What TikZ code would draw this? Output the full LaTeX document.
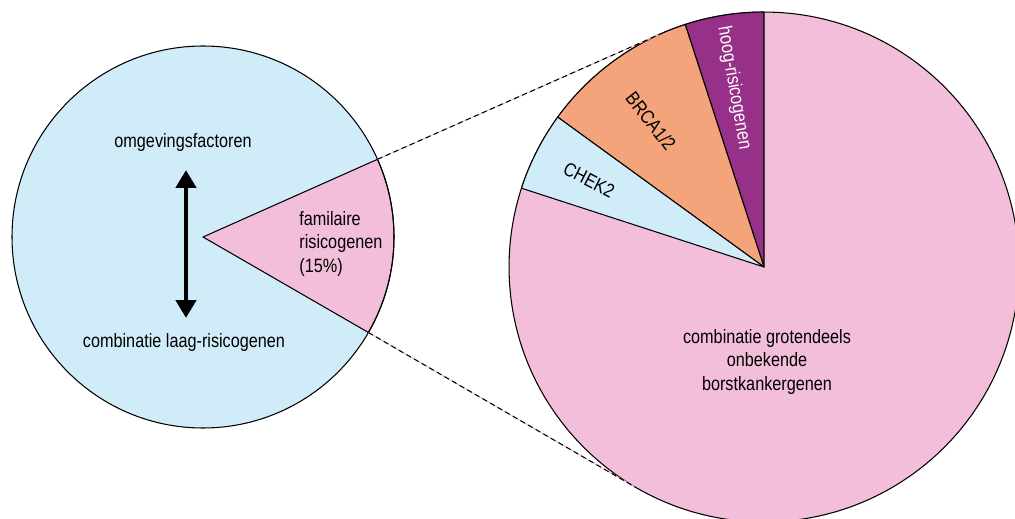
\documentclass[tikz,border=0pt]{standalone}
\usepackage{fontspec}
\setmainfont{Liberation Sans}[FakeStretch=0.84]
\usetikzlibrary{arrows.meta}
\definecolor{bcBlue}{RGB}{208,236,249}
\definecolor{bcPink}{RGB}{243,190,217}
\definecolor{bcOrange}{RGB}{244,164,122}
\definecolor{bcPurple}{RGB}{151,48,136}

\begin{document}
\begin{tikzpicture}[x=0.02cm, y=0.02cm, line width=0.6pt,
    font=\fontsize{11}{13.6}\selectfont,
    slice/.style={draw=black, line join=round},
    zoomline/.style={draw=black, dash pattern=on 3pt off 2pt}]
    \useasboundingbox (0,0) rectangle (1015,518);
    \clip (0,0) rectangle (1015,518);
    % left circle
    \coordinate (L) at (203,281);
    \fill[bcBlue] (L) circle (191);
    \filldraw[slice, fill=bcPink] (L) -- ++(-30:191) arc (-30:24:191) -- cycle;
    \draw (L) circle (191);
    \coordinate (famHi) at ([shift={(24:191)}]L);
    \coordinate (famLo) at ([shift={(-30:191)}]L);
    \node (omg) at (183,375) {omgevingsfactoren};
    \node (comb) at (184,175) {combinatie laag-risicogenen};
    \coordinate (arrTop) at (186,348);
    \coordinate (arrBot) at (186,200);
    \draw[line width=2.8pt, {Triangle[width=0.4cm,length=0.36cm]}-{Triangle[width=0.4cm,length=0.36cm]}]
      (arrTop) -- (arrBot);
    \node[align=left, anchor=west] (fam) at (293,274) {familaire\\ risicogenen\\ (15\%)};
    % right pie
    \coordinate (R) at (764,251);
    \node[circle, draw, fill=bcPink, minimum size=10.2cm, inner sep=0pt, outer sep=0pt] (big) at (R) {};
    \filldraw[slice, fill=bcPurple] (R) -- ++(90:255) arc (90:108:255) -- cycle;
    \filldraw[slice, fill=bcOrange] (R) -- ++(108:255) arc (108:144:255) -- cycle;
    \filldraw[slice, fill=bcBlue] (R) -- ++(144:255) arc (144:162:255) -- cycle;
    \node[rotate=-80, text=white] (hoog) at (734,430) {hoog-risicogenen};
    \node[rotate=-52] (brca) at (651,397) {BRCA1/2};
    \node[rotate=-27] (chek) at (589,338) {CHEK2};
    \node[align=center] (rest) at (767,156)
      {combinatie grotendeels\\ onbekende\\ borstkankergenen};
    % zoom lines
    \coordinate (tanHi) at ([shift={(113.9:255)}]R);
    \coordinate (tanLo) at ([shift={(239.9:255)}]R);
    \draw[bcPink] (famHi) -- (tanHi);
    \draw[bcPink] (famLo) -- (tanLo);
    \draw[zoomline] (famHi) -- (tanHi);
    \draw[zoomline] (famLo) -- (tanLo);
\end{tikzpicture}
\end{document}
